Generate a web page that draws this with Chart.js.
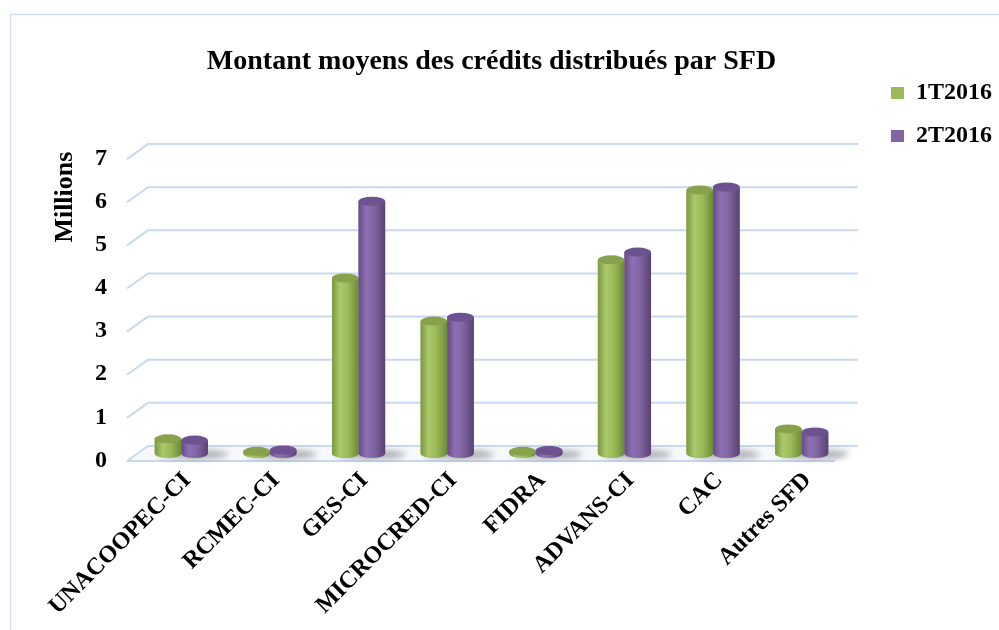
<!DOCTYPE html>
<html lang="fr">
<head>
  <meta charset="UTF-8">
  <title>Montant moyens des crédits distribués par SFD</title>
  <script src="https://cdn.jsdelivr.net/npm/chart.js"></script>
  <style>
    html, body { margin: 0; padding: 0; background: #fff; }
    #chart { display: block; width: 999px; height: 630px; }
  </style>
</head>
<body>
  <canvas id="chart" width="999" height="630"></canvas>

  <script>
    // values in millions
    const categories = ['UNACOOPEC-CI', 'RCMEC-CI', 'GES-CI', 'MICROCRED-CI', 'FIDRA', 'ADVANS-CI', 'CAC', 'Autres SFD'];
    const values1T2016 = [0.34, 0.05, 4.07, 3.07, 0.05, 4.49, 6.11, 0.57];
    const values2T2016 = [0.31, 0.08, 5.85, 3.16, 0.07, 4.67, 6.18, 0.50];
    const yTicks = [0, 1, 2, 3, 4, 5, 6, 7];

    const serif = 'Liberation Serif';
    const gridColor = '#c9d9ef';

    // shading for the cylinders: [left edge, highlight, body, right edge, cap]
    const shades = [
      ['#7b9843', '#a9c96a', '#9bbb59', '#6c8836', '#87a24b'],
      ['#664d86', '#8d70b3', '#8064a2', '#574273', '#6c5290']
    ];

    const depth = { back: 11, front: 10, dy: 7.5 };

    const wall3d = {
      id: 'wall3d',
      beforeDraw(chart) {
        const ctx = chart.ctx;
        ctx.save();
        ctx.fillStyle = '#fff';
        ctx.fillRect(0, 0, chart.width, chart.height);
        ctx.strokeStyle = '#d3e0f1';
        ctx.lineWidth = 1.5;
        ctx.strokeRect(10.5, 14.5, chart.width + 20, chart.height + 20);
        ctx.restore();
      },
      afterLayout(chart) {
        // legend sits top right, above the plot
        const lg = chart.legend;
        lg.left = 872;
        lg.top = 62;
        lg.right = 999;
        lg.bottom = 200;
      },
      beforeDatasetsDraw(chart) {
        const ctx = chart.ctx;
        const y = chart.scales.y;
        const { left, right } = chart.chartArea;
        const p0 = y.getPixelForValue(0);
        ctx.save();
        // floor
        ctx.beginPath();
        ctx.moveTo(left - depth.front, p0 + depth.dy);
        ctx.lineTo(left + depth.back, p0 - depth.dy);
        ctx.lineTo(right + depth.back + 1, p0 - depth.dy);
        ctx.lineTo(right - depth.front - 1, p0 + depth.dy);
        ctx.closePath();
        ctx.fillStyle = '#f6f8fc';
        ctx.fill();
        ctx.strokeStyle = gridColor;
        ctx.lineWidth = 2;
        ctx.beginPath();
        ctx.moveTo(left - depth.front, p0 + depth.dy);
        ctx.lineTo(right - depth.front - 1, p0 + depth.dy);
        ctx.stroke();
        // back wall lines and left wall diagonals
        yTicks.forEach(v => {
          const py = y.getPixelForValue(v);
          ctx.beginPath();
          ctx.moveTo(left - depth.front, py + depth.dy);
          ctx.lineTo(left + depth.back, py - depth.dy);
          ctx.lineTo(right + depth.back + 1, py - depth.dy);
          ctx.stroke();
        });
        // soft shadows on the floor
        ctx.filter = 'blur(3px)';
        ctx.fillStyle = 'rgba(80,80,80,0.45)';
        chart.data.datasets.forEach((ds, di) => {
          chart.getDatasetMeta(di).data.forEach(bar => {
            const w = bar.width;
            ctx.beginPath();
            ctx.ellipse(bar.x + w * 0.45, bar.base + 1, w * 0.8, 4, 0, 0, Math.PI * 2);
            ctx.fill();
          });
        });
        ctx.restore();
      },
      afterDatasetsDraw(chart) {
        const ctx = chart.ctx;
        ctx.save();
        chart.data.datasets.forEach((ds, di) => {
          const s = shades[di];
          chart.getDatasetMeta(di).data.forEach(bar => {
            const w = bar.width;
            const x0 = bar.x - w / 2;
            const ry = w * 0.17;
            const g = ctx.createLinearGradient(x0, 0, x0 + w, 0);
            g.addColorStop(0, s[0]);
            g.addColorStop(0.3, s[1]);
            g.addColorStop(0.6, s[2]);
            g.addColorStop(1, s[3]);
            ctx.fillStyle = g;
            ctx.beginPath();
            ctx.moveTo(x0, bar.y);
            ctx.lineTo(x0, bar.base);
            ctx.ellipse(bar.x, bar.base, w / 2, ry, 0, Math.PI, 0, true);
            ctx.lineTo(x0 + w, bar.y);
            ctx.closePath();
            ctx.fill();
            ctx.fillStyle = s[4];
            ctx.beginPath();
            ctx.ellipse(bar.x, bar.y, w / 2, ry, 0, 0, Math.PI * 2);
            ctx.fill();
          });
        });
        ctx.restore();
      }
    };

    new Chart(document.getElementById('chart'), {
      type: 'bar',
      data: {
        labels: categories,
        datasets: [
          { label: '1T2016', data: values1T2016, backgroundColor: '#9bbb59', borderWidth: 0 },
          { label: '2T2016', data: values2T2016, backgroundColor: '#8064a2', borderWidth: 0 }
        ]
      },
      options: {
        responsive: false,
        animation: false,
        categoryPercentage: 0.6,
        barPercentage: 1.0,
        layout: { padding: { left: 50, right: 153, top: 20, bottom: 0 } },
        plugins: {
          title: {
            display: true,
            text: 'Montant moyens des crédits distribués par SFD',
            fullSize: false,
            color: '#000',
            font: { family: serif, size: 28, weight: 'bold' },
            padding: { top: 25, bottom: 73 }
          },
          legend: {
            position: 'chartArea',
            align: 'start',
            labels: {
              color: '#000',
              boxWidth: 13,
              boxHeight: 12,
              padding: 19,
              font: { family: serif, size: 24, weight: 'bold' }
            }
          },
          tooltip: { enabled: false }
        },
        scales: {
          x: {
            grid: { display: false, drawTicks: false },
            border: { display: false },
            ticks: {
              autoSkip: false,
              minRotation: 45,
              maxRotation: 45,
              padding: 13,
              labelOffset: 6,
              color: '#000',
              font: { family: serif, size: 24, weight: 'bold' }
            },
            afterFit(scale) {
              scale.height = 176.5;
              scale.paddingLeft = 0;
              scale.paddingRight = 0;
            }
          },
          y: {
            min: 0,
            max: 7,
            grid: { display: false, drawTicks: false },
            border: { display: false },
            ticks: {
              stepSize: 1,
              padding: 30,
              labelOffset: 7,
              color: '#000',
              font: { family: serif, size: 24, weight: 'bold' }
            },
            title: {
              display: true,
              text: 'Millions',
              align: 'end',
              color: '#000',
              padding: 0,
              font: { family: serif, size: 26, weight: 'bold' }
            },
            afterFit(scale) {
              scale.width = 87;
            }
          }
        }
      },
      plugins: [wall3d]
    });
  </script>
</body>
</html>
